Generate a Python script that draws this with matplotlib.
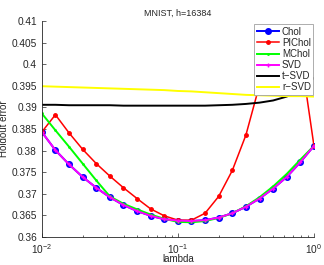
import matplotlib; matplotlib.use("Agg")
import matplotlib.pyplot as plt
import numpy as np

# lambda grid: 10^-2 .. 10^0, 21 points
lam_exp = [-2.0, -1.9, -1.8, -1.7, -1.6, -1.5, -1.4, -1.3, -1.2, -1.1, -1.0,
           -0.9, -0.8, -0.7, -0.6, -0.5, -0.4, -0.3, -0.2, -0.1, 0.0]
lam = [10 ** e for e in lam_exp]

chol = [0.3843, 0.3801, 0.3768, 0.3739, 0.3714, 0.3692, 0.3674, 0.3660, 0.3649, 0.3641, 0.3638,
        0.3637, 0.3639, 0.3645, 0.3655, 0.3670, 0.3689, 0.3712, 0.3739, 0.3773, 0.3811]
pichol = [0.3843, 0.3883, 0.3841, 0.3803, 0.3770, 0.3741, 0.3714, 0.3689, 0.3665, 0.3649, 0.3639,
          0.3639, 0.3655, 0.3694, 0.3754, 0.3836, 0.3952, 0.4005, 0.4030, 0.4028, 0.3811]
mchol = [0.3886, 0.3847, 0.3809, 0.3770, 0.3731, 0.3694, 0.3677, 0.3664, 0.3652, 0.3642, 0.3635,
         0.3634, 0.3637, 0.3644, 0.3655, 0.3671, 0.3692, 0.3717, 0.3746, 0.3779, 0.3811]
svd = chol
tsvd = [0.3906, 0.3906, 0.3905, 0.3905, 0.3905, 0.3905, 0.3904, 0.3904, 0.3904, 0.3904, 0.3904,
        0.3904, 0.3904, 0.3905, 0.3906, 0.3908, 0.3911, 0.3916, 0.3925, 0.3942, 0.3968]
rsvd = [0.3949, 0.3948, 0.3947, 0.3946, 0.3945, 0.3944, 0.3943, 0.3942, 0.3941, 0.3940, 0.3938,
        0.3937, 0.3935, 0.3933, 0.3931, 0.3929, 0.3928, 0.3927, 0.3926, 0.3926, 0.3925]

yticks = [0.36, 0.365, 0.37, 0.375, 0.38, 0.385, 0.39, 0.395, 0.4, 0.405, 0.41]
ytick_labels = ["0.36", "0.365", "0.37", "0.375", "0.38", "0.385", "0.39", "0.395", "0.4", "0.405", "0.41"]

plt.rcParams['font.family'] = ['Liberation Sans', 'DejaVu Sans']
txt = '#262626'

fig = plt.figure(figsize=(3.24, 2.65), dpi=100)
ax = fig.add_axes([0.129, 0.1057, 0.84, 0.8151])

ax.plot(lam, chol, color='#0000ff', lw=1.4, marker='o', ms=4, label='Chol')
ax.plot(lam, pichol, color='#ff0000', lw=1.1, marker='.', ms=5, label='PIChol')
ax.plot(lam, mchol, color='#00ff00', lw=1.4, marker='.', ms=2, label='MChol')
ax.plot(lam, svd, color='#ff00ff', lw=1.4, marker='+', ms=3, label='SVD')
ax.plot(lam, tsvd, color='black', lw=1.4, label='t\u2212SVD')
ax.plot(lam, rsvd, color='#ffff00', lw=1.4, label='r\u2212SVD')

ax.set_xscale('log')
ax.set_xlim(0.01, 1)
ax.set_ylim(0.36, 0.41)
ax.set_yticks(yticks)
ax.set_yticklabels(ytick_labels)

for s in ['top', 'right']:
    ax.spines[s].set_visible(False)
for s in ['left', 'bottom']:
    ax.spines[s].set_color(txt)
    ax.spines[s].set_linewidth(0.6)
ax.tick_params(which='both', direction='in', colors=txt, labelsize=7.3, width=0.5)
ax.tick_params(which='major', length=3)
ax.tick_params(which='minor', length=1.8)

ax.set_title('MNIST, h=16384', fontsize=6.5, color=txt, pad=4)
ax.set_xlabel('lambda', fontsize=7, color=txt, labelpad=-1)
ax.set_ylabel('Holdout error', fontsize=7, color=txt, labelpad=2)

leg = ax.legend(loc='upper right', bbox_to_anchor=(0.998, 0.985), fontsize=7, fancybox=False,
                framealpha=1, edgecolor='#a0a0a0', borderpad=0.25, labelspacing=0.12,
                handlelength=2.3, handletextpad=0.3, borderaxespad=0)
leg.get_frame().set_linewidth(0.6)
for t in leg.get_texts():
    t.set_color(txt)

fig.savefig('out.png', dpi=100)
